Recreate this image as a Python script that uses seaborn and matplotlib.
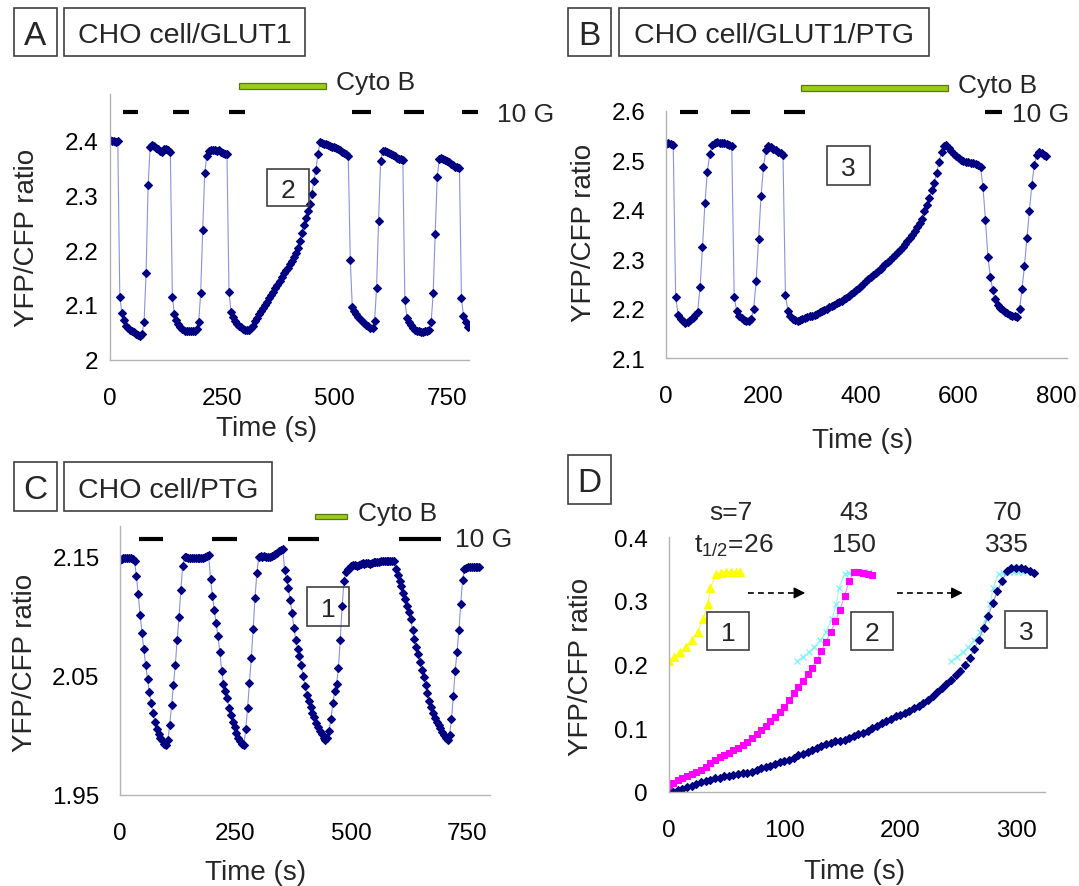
import numpy as np
import matplotlib
matplotlib.use("Agg")
import matplotlib.pyplot as plt
from matplotlib.patches import Rectangle
import seaborn as sns

# ---------------------------------------------------------------- data
# Panel A: CHO cell/GLUT1, one reading every 4.5 s
dt_a = 4.5
ratio_a = [
    2.401, 2.399, 2.400, 2.398, 2.399, 2.115, 2.085, 2.072, 2.062, 2.058,   # 0 s
    2.055, 2.052, 2.050, 2.047, 2.045, 2.044, 2.046, 2.069, 2.158, 2.318,   # 45 s
    2.388, 2.391, 2.390, 2.387, 2.384, 2.381, 2.380, 2.384, 2.384, 2.382,   # 90 s
    2.380, 2.115, 2.083, 2.072, 2.065, 2.060, 2.056, 2.053, 2.052, 2.052,   # 135 s
    2.052, 2.052, 2.053, 2.056, 2.068, 2.121, 2.237, 2.340, 2.372, 2.381,   # 180 s
    2.383, 2.382, 2.383, 2.381, 2.382, 2.380, 2.377, 2.376, 2.376, 2.124,   # 225 s
    2.087, 2.078, 2.071, 2.066, 2.062, 2.059, 2.056, 2.055, 2.054, 2.055,   # 270 s
    2.057, 2.062, 2.070, 2.076, 2.083, 2.089, 2.095, 2.100, 2.106, 2.112,   # 315 s
    2.118, 2.124, 2.130, 2.137, 2.144, 2.151, 2.158, 2.164, 2.168, 2.174,   # 360 s
    2.180, 2.187, 2.194, 2.203, 2.216, 2.232, 2.245, 2.259, 2.272, 2.284,   # 405 s
    2.303, 2.326, 2.346, 2.375, 2.397, 2.396, 2.394, 2.393, 2.391, 2.390,   # 450 s
    2.389, 2.388, 2.386, 2.384, 2.382, 2.380, 2.378, 2.376, 2.372, 2.182,   # 495 s
    2.096, 2.088, 2.083, 2.078, 2.074, 2.070, 2.067, 2.064, 2.061, 2.058,   # 540 s
    2.057, 2.070, 2.130, 2.254, 2.362, 2.381, 2.381, 2.379, 2.377, 2.375,   # 585 s
    2.373, 2.371, 2.369, 2.367, 2.366, 2.365, 2.109, 2.077, 2.068, 2.063,   # 630 s
    2.058, 2.055, 2.053, 2.052, 2.051, 2.051, 2.052, 2.053, 2.055, 2.068,   # 675 s
    2.121, 2.230, 2.333, 2.366, 2.368, 2.367, 2.365, 2.363, 2.361, 2.358,   # 720 s
    2.355, 2.352, 2.351, 2.350, 2.112, 2.080, 2.069, 2.060,                 # 765 s
]
glucose_a = [(30, 64), (142, 176), (266, 302), (539, 581), (656, 700), (784, 819)]
cyto_a = (288, 481)

# Panel B: CHO cell/GLUT1/PTG, one reading every 5 s
dt_b = 5
ratio_b = [
    2.533, 2.534, 2.533, 2.530, 2.224, 2.188, 2.180, 2.175, 2.172, 2.173,   # 0 s
    2.177, 2.181, 2.187, 2.194, 2.243, 2.324, 2.413, 2.477, 2.513, 2.531,   # 50 s
    2.535, 2.536, 2.535, 2.534, 2.534, 2.532, 2.531, 2.528, 2.224, 2.196,   # 100 s
    2.186, 2.181, 2.178, 2.176, 2.176, 2.179, 2.200, 2.256, 2.340, 2.427,   # 150 s
    2.486, 2.521, 2.528, 2.526, 2.523, 2.520, 2.517, 2.514, 2.511, 2.228,   # 200 s
    2.196, 2.186, 2.180, 2.177, 2.176, 2.178, 2.180, 2.182, 2.184, 2.185,   # 250 s
    2.186, 2.188, 2.190, 2.193, 2.195, 2.198, 2.200, 2.203, 2.206, 2.208,   # 300 s
    2.211, 2.213, 2.216, 2.219, 2.222, 2.226, 2.229, 2.233, 2.238, 2.242,   # 350 s
    2.246, 2.251, 2.256, 2.260, 2.264, 2.268, 2.272, 2.277, 2.281, 2.286,   # 400 s
    2.290, 2.295, 2.299, 2.304, 2.309, 2.314, 2.319, 2.325, 2.331, 2.337,   # 450 s
    2.343, 2.350, 2.358, 2.366, 2.374, 2.382, 2.397, 2.410, 2.423, 2.440,   # 500 s
    2.455, 2.475, 2.497, 2.516, 2.528, 2.531, 2.524, 2.518, 2.513, 2.508,   # 550 s
    2.504, 2.501, 2.499, 2.497, 2.496, 2.495, 2.494, 2.493, 2.491, 2.486,   # 600 s
    2.445, 2.380, 2.305, 2.265, 2.238, 2.219, 2.208, 2.202, 2.198, 2.194,   # 650 s
    2.191, 2.188, 2.186, 2.185, 2.184, 2.200, 2.240, 2.287, 2.343, 2.397,   # 700 s
    2.449, 2.490, 2.510, 2.516, 2.514, 2.511, 2.509,                        # 750 s
]
glucose_b = [(28, 66), (134, 173), (242, 285), (654, 689)]
cyto_b = (276, 578)

# Panel C: CHO cell/PTG, one reading every 4 s
dt_c = 4
ratio_c = [
    2.1470, 2.1480, 2.1485, 2.1486, 2.1483, 2.1485, 2.1482, 2.1478, 2.1460, 2.1330,  # 0 s
    2.1180, 2.1010, 2.0860, 2.0720, 2.0590, 2.0470, 2.0360, 2.0270, 2.0190, 2.0110,  # 40 s
    2.0050, 2.0010, 1.9975, 1.9960, 1.9930, 1.9920, 1.9960, 2.0090, 2.0250, 2.0420,  # 80 s
    2.0590, 2.0800, 2.0990, 2.1220, 2.1420, 2.1490, 2.1492, 2.1488, 2.1485, 2.1486,  # 120 s
    2.1484, 2.1487, 2.1483, 2.1485, 2.1488, 2.1486, 2.1490, 2.1500, 2.1510, 2.1310,  # 160 s
    2.1170, 2.1050, 2.0940, 2.0830, 2.0700, 2.0540, 2.0430, 2.0370, 2.0310, 2.0230,  # 200 s
    2.0170, 2.0110, 2.0070, 2.0020, 1.9980, 1.9950, 1.9930, 1.9915, 2.0050, 2.0230,  # 240 s
    2.0440, 2.0650, 2.0890, 2.1150, 2.1360, 2.1490, 2.1500, 2.1497, 2.1500, 2.1495,  # 280 s
    2.1497, 2.1495, 2.1505, 2.1510, 2.1520, 2.1530, 2.1540, 2.1550, 2.1560, 2.1380,  # 320 s
    2.1310, 2.1230, 2.1130, 2.1020, 2.0900, 2.0800, 2.0720, 2.0660, 2.0590, 2.0500,  # 360 s
    2.0410, 2.0340, 2.0290, 2.0240, 2.0190, 2.0150, 2.0100, 2.0070, 2.0040, 2.0010,  # 400 s
    1.9980, 1.9960, 1.9980, 2.0040, 2.0140, 2.0270, 2.0370, 2.0430, 2.0560, 2.0800,  # 440 s
    2.1080, 2.1290, 2.1370, 2.1390, 2.1405, 2.1415, 2.1425, 2.1426, 2.1420, 2.1430,  # 480 s
    2.1435, 2.1440, 2.1432, 2.1440, 2.1443, 2.1438, 2.1445, 2.1450, 2.1448, 2.1452,  # 520 s
    2.1454, 2.1456, 2.1460, 2.1458, 2.1462, 2.1463, 2.1462, 2.1463, 2.1460, 2.1390,  # 560 s
    2.1340, 2.1290, 2.1250, 2.1190, 2.1140, 2.1080, 2.1030, 2.0975, 2.0880, 2.0810,  # 600 s
    2.0740, 2.0680, 2.0610, 2.0550, 2.0490, 2.0420, 2.0350, 2.0285, 2.0235, 2.0185,  # 640 s
    2.0145, 2.0110, 2.0085, 2.0060, 2.0030, 2.0000, 1.9980, 1.9957, 2.0006, 2.0134,  # 680 s
    2.0330, 2.0540, 2.0700, 2.0880, 2.1100, 2.1300, 2.1390, 2.1405, 2.1406, 2.1406,  # 720 s
    2.1406, 2.1406, 2.1406, 2.1406, 2.1406,                                          # 760 s
]
glucose_c = [(42, 93), (199, 254), (364, 430), (603, 694)]
cyto_c = (421, 490)

# Panel D: recovery phases (1 = panel C, 2 = panel A, 3 = panel B)
t_d1 = [0, 5, 10, 15, 20, 25, 30, 34, 36, 41, 45, 50, 54, 58, 62]
ratio_d1 = [0.205, 0.212, 0.220, 0.228, 0.238, 0.251, 0.272, 0.295, 0.320,
            0.342, 0.344, 0.346, 0.346, 0.346, 0.345]
# trace 1 laid over the end of traces 2 and 3
t_d1_over2 = [111, 116, 121, 126, 131, 136, 141, 145, 147, 152, 156, 161, 165, 169, 173]
t_d1_over3 = [244, 249, 254, 259, 264, 269, 274, 278, 280, 285, 289, 294, 298, 302, 306]

dt_d = 4
ratio_d2 = [  # starts at 0 s
    0.004, 0.013, 0.019, 0.022, 0.025, 0.028, 0.031, 0.034, 0.039, 0.045,
    0.050, 0.054, 0.057, 0.061, 0.065, 0.069, 0.073, 0.078, 0.084, 0.090,
    0.097, 0.104, 0.111, 0.118, 0.126, 0.133, 0.144, 0.155, 0.164, 0.174,
    0.185, 0.195, 0.207, 0.221, 0.236, 0.251, 0.268, 0.286, 0.308, 0.332,
    0.345, 0.345, 0.344, 0.342, 0.341,
]
start_d3 = 4
ratio_d3 = [  # starts at 4 s
    0.000, 0.003, 0.005, 0.007, 0.009, 0.012, 0.015, 0.017, 0.019, 0.021,
    0.022, 0.024, 0.025, 0.026, 0.028, 0.029, 0.029, 0.031, 0.034, 0.037,
    0.039, 0.041, 0.043, 0.046, 0.048, 0.050, 0.053, 0.057, 0.060, 0.062,
    0.066, 0.069, 0.072, 0.075, 0.077, 0.079, 0.080, 0.082, 0.085, 0.088,
    0.090, 0.093, 0.096, 0.100, 0.104, 0.108, 0.111, 0.115, 0.119, 0.121,
    0.124, 0.127, 0.131, 0.134, 0.139, 0.144, 0.151, 0.157, 0.163, 0.169,
    0.175, 0.183, 0.190, 0.200, 0.210, 0.225, 0.239, 0.257, 0.276, 0.297,
    0.315, 0.331, 0.347, 0.352, 0.352, 0.351, 0.350, 0.347, 0.344,
]
slopes = ["s=7", "43", "70"]
half_times = ["t$_{1/2}$=26", "150", "335"]

# ---------------------------------------------------------------- style
sns.set_style("white")
plt.rcParams["font.family"] = ["Liberation Sans", "DejaVu Sans"]
plt.rcParams["mathtext.fontset"] = "custom"
plt.rcParams["mathtext.rm"] = "Liberation Sans"
plt.rcParams["mathtext.it"] = "Liberation Sans:italic"

W, H = 1079, 887
NAVY = "#000080"
NAVY_LINE = "#8c93d6"
GREY = "#b4b4b4"
GREEN = "#9acd1a"
TICK_FS = 17.5
LAB_FS = 20
TITLE_FS = 20.5
TXT_FS = 19
LETTER_FS = 24
DIAMOND = 3.9

fig = plt.figure(figsize=(W / 100, H / 100), dpi=100)


def axes_px(left, top, right, bottom):
    return fig.add_axes([left / W, 1 - bottom / H, (right - left) / W, (bottom - top) / H])


def text_px(x, y, s, size, ha="center", **kw):
    # y is the middle of the cap height, in pixels from the top
    em = size * 100 / 72
    fig.text(x / W, 1 - (y + 0.358 * em) / H, s, fontsize=size, ha=ha,
             va="baseline", **kw)


def boxed(x0, y0, x1, y1, s, size):
    fig.patches.append(Rectangle((x0 / W, 1 - y1 / H), (x1 - x0) / W, (y1 - y0) / H,
                                 transform=fig.transFigure, fill=False,
                                 ec="#404040", lw=1.2))
    text_px((x0 + x1) / 2, (y0 + y1) / 2, s, size)


def ylabel_px(x, y):
    fig.text(x / W, 1 - y / H, "YFP/CFP ratio", rotation=90, ha="center",
             va="center", fontsize=LAB_FS)


def style(ax, xlim, ylim, xticks, yticks, ylabels, ypad):
    ax.set_xlim(*xlim)
    ax.set_ylim(*ylim)
    ax.set_xticks(xticks)
    ax.set_xticklabels([str(v) for v in xticks])
    ax.set_yticks(yticks)
    ax.set_yticklabels(ylabels)
    for side in ("top", "right"):
        ax.spines[side].set_visible(False)
    for side in ("left", "bottom"):
        ax.spines[side].set_color(GREY)
        ax.spines[side].set_linewidth(1.0)
    ax.tick_params(axis="both", direction="out", length=5.5, width=1.0,
                   color=GREY, labelsize=TICK_FS, labelcolor="black")
    ax.tick_params(axis="x", pad=14)
    ax.tick_params(axis="y", pad=ypad)
    ax.set_xlabel("")
    ax.set_ylabel("")
    ax.patch.set_alpha(0)


def trace(ax, t, v, mcolor, lcolor, marker, ms, mew=0.8, lw=0.8):
    sns.lineplot(x=np.asarray(t, float), y=np.asarray(v, float), ax=ax,
                 estimator=None, sort=False, color=lcolor, lw=lw,
                 marker=marker, markersize=ms, markerfacecolor=mcolor,
                 markeredgecolor=mcolor, markeredgewidth=mew)


def glucose_marks(ax, windows, y):
    for t0, t1 in windows:
        ax.plot([t0, t1], [y, y], color="black", lw=3.0,
                solid_capstyle="butt", clip_on=False)


def cyto_bar(ax, window, y0, y1):
    ax.add_patch(Rectangle((window[0], y0), window[1] - window[0], y1 - y0,
                           fc=GREEN, ec="#5e7512", lw=0.9, clip_on=False))


# ---------------------------------------------------------------- panel A
ax_a = axes_px(109.7, 95.0, 469.1, 360.7)
t_a = np.arange(len(ratio_a)) * dt_a
trace(ax_a, t_a, ratio_a, NAVY, NAVY_LINE, "D", DIAMOND)
style(ax_a, (0, 800), (2.0, 2.485), [0, 250, 500, 750],
      [2.0, 2.1, 2.2, 2.3, 2.4], ["2", "2.1", "2.2", "2.3", "2.4"], 2.5)
glucose_marks(ax_a, glucose_a, 2.452)
cyto_bar(ax_a, cyto_a, 2.494, 2.505)
boxed(13.8, 9.3, 56.9, 57.3, "A", LETTER_FS)
boxed(63.8, 9.3, 305.2, 57.3, "CHO cell/GLUT1", TITLE_FS)
text_px(336, 81, "Cyto B", TXT_FS, ha="left")
text_px(497, 113, "10 G", TXT_FS, ha="left")
boxed(267.2, 170, 309.3, 207.3, "2", TXT_FS)
ylabel_px(27, 238)
text_px(267, 426, "Time (s)", LAB_FS)

# ---------------------------------------------------------------- panel B
ax_b = axes_px(665.9, 111.7, 1067.4, 359.3)
t_b = np.arange(len(ratio_b)) * dt_b
trace(ax_b, t_b, ratio_b, NAVY, NAVY_LINE, "D", DIAMOND)
style(ax_b, (0, 823), (2.1, 2.6), [0, 200, 400, 600, 800],
      [2.1, 2.2, 2.3, 2.4, 2.5, 2.6], ["2.1", "2.2", "2.3", "2.4", "2.5", "2.6"], 9.5)
glucose_marks(ax_b, glucose_b, 2.597)
cyto_bar(ax_b, cyto_b, 2.640, 2.652)
boxed(567.6, 9.3, 610.7, 57.3, "B", LETTER_FS)
boxed(618.6, 9.3, 929.0, 57.3, "CHO cell/GLUT1/PTG", TITLE_FS)
text_px(958, 84, "Cyto B", TXT_FS, ha="left")
text_px(1012, 113, "10 G", TXT_FS, ha="left")
boxed(827.2, 147.3, 870.0, 185.7, "3", TXT_FS)
ylabel_px(584, 233)
text_px(863, 438, "Time (s)", LAB_FS)

# ---------------------------------------------------------------- panel C
ax_c = axes_px(119.7, 527.3, 490.4, 796.0)
t_c = np.arange(len(ratio_c)) * dt_c
trace(ax_c, t_c, ratio_c, NAVY, NAVY_LINE, "D", DIAMOND)
style(ax_c, (0, 800), (1.95, 2.175), [0, 250, 500, 750],
      [1.95, 2.05, 2.15], ["1.95", "2.05", "2.15"], 9.0)
glucose_marks(ax_c, glucose_c, 2.1645)
cyto_bar(ax_c, cyto_c, 2.1807, 2.1854)
boxed(13.8, 463.3, 56.9, 511.7, "C", LETTER_FS)
boxed(63.8, 463.3, 272.4, 511.7, "CHO cell/PTG", TITLE_FS)
text_px(358, 512, "Cyto B", TXT_FS, ha="left")
text_px(455, 538, "10 G", TXT_FS, ha="left")
boxed(306.9, 588.3, 349.0, 626.7, "1", TXT_FS)
ylabel_px(25, 663)
text_px(256, 870, "Time (s)", LAB_FS)

# ---------------------------------------------------------------- panel D
ax_d = axes_px(668.6, 538.3, 1044.9, 792.7)
t_d2 = np.arange(len(ratio_d2)) * dt_d
t_d3 = start_d3 + np.arange(len(ratio_d3)) * dt_d
trace(ax_d, t_d1_over2, ratio_d1, "#7ff0f5", "#9ff4f7", "x", 4.8, mew=0.9)
trace(ax_d, t_d1_over3, ratio_d1, "#7ff0f5", "#9ff4f7", "x", 4.8, mew=0.9)
trace(ax_d, t_d1, ratio_d1, "#ffff00", "#f5f560", "^", 5.6)
trace(ax_d, t_d2, ratio_d2, "#ff00ff", "#ff8cff", "s", 4.4)
trace(ax_d, t_d3, ratio_d3, NAVY, NAVY_LINE, "D", DIAMOND)
style(ax_d, (0, 325), (0, 0.4), [0, 100, 200, 300],
      [0, 0.1, 0.2, 0.3, 0.4], ["0", "0.1", "0.2", "0.3", "0.4"], 9.5)

# dashed arrows between the phases
for t0, t_head, t_tip in [(69, 109, 118), (197, 244, 254)]:
    ax_d.plot([t0, t_head], [0.3125, 0.3125], color="black", lw=1.2,
              ls=(0, (3.5, 2.5)))
    ax_d.annotate("", xy=(t_tip, 0.3125), xytext=(t_head, 0.3125),
                  arrowprops=dict(arrowstyle="-|>", color="black", lw=1.0,
                                  mutation_scale=17, shrinkA=0, shrinkB=0))

boxed(567.6, 456.0, 610.7, 505.0, "D", LETTER_FS)
for x, s, th in zip([731, 854, 1007], slopes, half_times):
    text_px(x, 511, s, TXT_FS)
    text_px(x + (3 if th.startswith("t") else 0), 543, th, TXT_FS)
boxed(707.2, 612.7, 749.3, 650.7, "1", TXT_FS)
boxed(851.4, 612.7, 893.4, 650.7, "2", TXT_FS)
boxed(1004.8, 611.7, 1046.9, 649.3, "3", TXT_FS)
ylabel_px(581, 667)
text_px(855, 869, "Time (s)", LAB_FS)

fig.savefig("out.png", dpi=100)
